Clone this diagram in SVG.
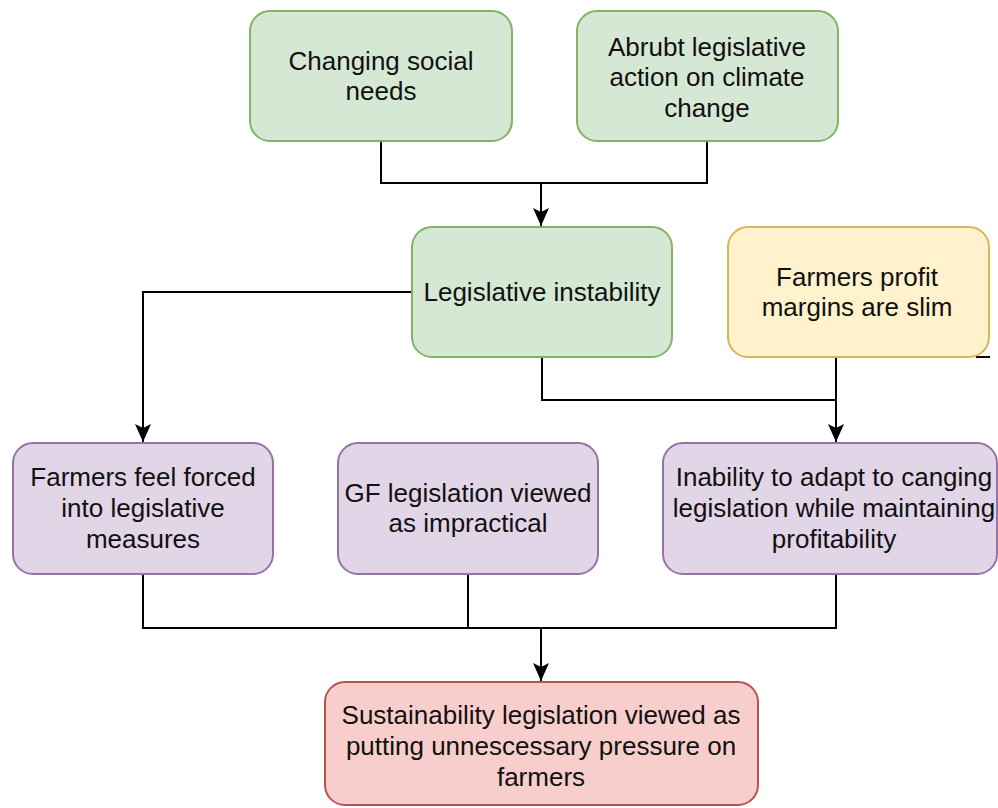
<svg xmlns="http://www.w3.org/2000/svg" width="998" height="808" viewBox="0 0 998 808">
  <style>
    .node rect { stroke-width: 2; }
    .green rect { fill: #d5e8d4; stroke: #82b366; }
    .yellow rect { fill: #fff2cc; stroke: #d6b656; }
    .purple rect { fill: #e1d5e7; stroke: #9673a6; }
    .red rect { fill: #f8cecc; stroke: #b85450; }
    .node text { font-family: "Liberation Sans", Arial, Helvetica, sans-serif; font-size: 26px; fill: #111; text-anchor: middle; }
    .edge { fill: none; stroke: #000; stroke-width: 2; }
  </style>
  <defs>
    <marker id="arrow" viewBox="0 0 18 16" refX="18" refY="8" markerWidth="18" markerHeight="16" markerUnits="userSpaceOnUse" orient="auto">
      <path d="M0,0 L18,8 L0,16 L4,8 Z" fill="#000"/>
    </marker>
  </defs>
  <rect width="998" height="808" fill="#ffffff"/>

  <g id="connectors">
    <path class="edge" d="M381,141 V183 H541"/>
    <path class="edge" d="M707,141 V183 H541 V226" marker-end="url(#arrow)"/>
    <path class="edge" d="M412,292 H143 V442" marker-end="url(#arrow)"/>
    <path class="edge" d="M542,357 V400 H836"/>
    <path class="edge" d="M836,357 V442" marker-end="url(#arrow)"/>
    <path class="edge" d="M143,574 V628 H836 V574"/>
    <path class="edge" d="M468,574 V628"/>
    <path class="edge" d="M541,628 V681" marker-end="url(#arrow)"/>
    <path class="edge" d="M976,357 H990"/>
  </g>

  <g id="changing-social-needs" class="node green">
    <rect x="250" y="11" width="262" height="130" rx="20"/>
    <text x="381" y="70">Changing social</text>
    <text x="381" y="100">needs</text>
  </g>

  <g id="abrupt-legislative-action" class="node green">
    <rect x="577" y="11" width="261" height="130" rx="20"/>
    <text x="707" y="56">Abrubt legislative</text>
    <text x="707" y="86">action on climate</text>
    <text x="707" y="117">change</text>
  </g>

  <g id="legislative-instability" class="node green">
    <rect x="412" y="227" width="260" height="130" rx="20"/>
    <text x="542" y="301">Legislative instability</text>
  </g>

  <g id="profit-margins" class="node yellow">
    <rect x="728" y="227" width="261" height="130" rx="20"/>
    <text x="857" y="286">Farmers profit</text>
    <text x="857" y="316">margins are slim</text>
  </g>

  <g id="farmers-feel-forced" class="node purple">
    <rect x="13" y="443" width="260" height="131" rx="20"/>
    <text x="143" y="486">Farmers feel forced</text>
    <text x="143" y="517">into legislative</text>
    <text x="143" y="548">measures</text>
  </g>

  <g id="gf-legislation" class="node purple">
    <rect x="338" y="443" width="260" height="131" rx="20"/>
    <text x="468" y="502">GF legislation viewed</text>
    <text x="468" y="532">as impractical</text>
  </g>

  <g id="inability-to-adapt" class="node purple">
    <rect x="663" y="443" width="334" height="131" rx="20"/>
    <text x="834" y="486">Inability to adapt to canging</text>
    <text x="834" y="517">legislation while maintaining</text>
    <text x="834" y="548">profitability</text>
  </g>

  <g id="sustainability-legislation" class="node red">
    <rect x="325" y="682" width="433" height="123" rx="20"/>
    <text x="541" y="724">Sustainability legislation viewed as</text>
    <text x="541" y="755">putting unnescessary pressure on</text>
    <text x="541" y="786">farmers</text>
  </g>
</svg>
